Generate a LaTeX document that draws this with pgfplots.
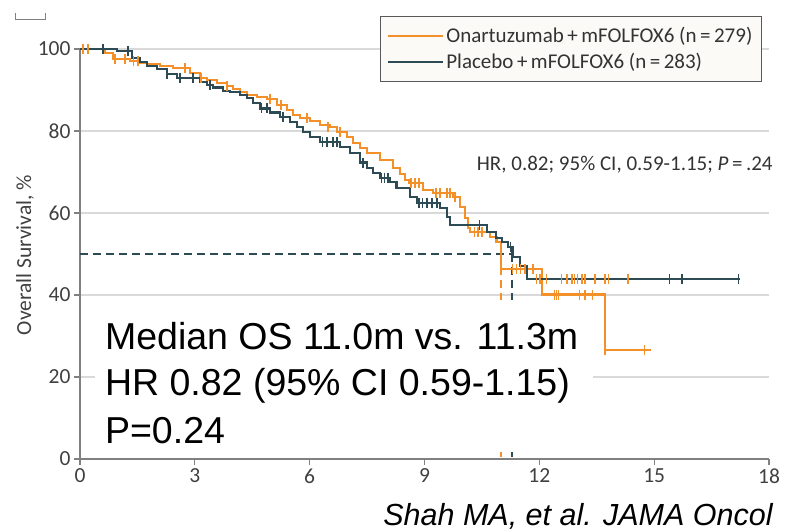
\documentclass[border=0pt]{standalone}
\usepackage{fontspec}
\setmainfont{Carlito}
\newfontfamily\arialfont{Liberation Sans}
\usepackage{pgfplots}
\pgfplotsset{compat=1.18}
\definecolor{onaorange}{RGB}{243,144,42}
\definecolor{placdark}{RGB}{45,75,85}
\definecolor{gridgray}{RGB}{217,217,217}
\definecolor{axgray}{RGB}{128,128,128}
\definecolor{legfill}{RGB}{251,250,246}

\begin{document}
\begin{tikzpicture}
\path[use as bounding box] (0,0) rectangle (785pt,531pt);
\draw[axgray, line width=1pt] (15pt,518pt) -- (15pt,511pt) -- (45pt,511pt) -- (45pt,518pt);
\begin{axis}[
  at={(80pt,72pt)}, anchor=south west, scale only axis,
  width=689pt, height=410pt,
  xmin=0, xmax=18, ymin=0, ymax=100, clip=false,
  axis lines=left, axis line style={-, axgray, line width=1.2pt},
  xtick={0,3,...,18}, ytick={0,20,...,100},
  tick align=outside, major tick length=6pt,
  tick style={axgray, line width=1.2pt},
  ymajorgrids, grid style={gridgray, line width=1.2pt},
  tick label style={font=\fontsize{21.5}{25}\selectfont, text=black!75},
  /pgf/number format/assume math mode=true,
  ylabel={Overall Survival, \%},
  ylabel style={font=\fontsize{21.5}{25}\selectfont, text=black!75,
    at={(axis description cs:-0.0798,0.4976)}, anchor=center},
  legend style={at={(0.4354,1.0805)}, anchor=north west, draw=black!65,
    fill=legfill, line width=0.8pt, font=\fontsize{21}{25}\selectfont,
    text=black!80, inner xsep=7pt, inner ysep=9pt, row sep=5pt},
  legend cell align=left,
  legend image code/.code={\draw[#1, line width=2pt] (0pt,0pt) -- (55pt,0pt);},
]

% median reference lines
\addplot[placdark, line width=1.8pt, dash pattern=on 8pt off 5pt, forget plot]
  coordinates {(0,50) (11.28,50)};
\addplot[onaorange, line width=1.8pt, dash pattern=on 8pt off 5pt, forget plot]
  coordinates {(11.0,50) (11.0,0)};
\addplot[placdark, line width=1.8pt, dash pattern=on 8pt off 5pt, forget plot]
  coordinates {(11.28,50) (11.28,0)};

% Onartuzumab + mFOLFOX6
\addplot[onaorange, line width=2.2pt, const plot] coordinates {
  (0,100) (0.65,99) (0.86,97.5) (1.31,97) (1.57,96.6) (1.75,96.3) (2.09,95.9)
  (2.43,95.4) (2.87,94.2) (3.13,93) (3.32,92.4) (3.58,91.7) (3.84,91) (3.99,90.2)
  (4.18,89.5) (4.36,88.8) (4.62,88.3) (4.88,87.8) (5.14,86.3) (5.40,85.1)
  (5.56,83.9) (5.74,83.2) (6.01,82.4) (6.27,81.5) (6.53,81.0) (6.71,79.8)
  (6.97,78.5) (7.13,77.0) (7.31,75.8) (7.49,74.6) (7.83,72.9) (8.17,71.0)
  (8.36,69.5) (8.49,68.0) (8.60,67.3) (8.96,65.6) (9.22,64.9) (9.74,63.9)
  (9.92,61.5) (10.05,58.8) (10.13,56.3) (10.18,55.4) (10.72,54.1) (10.88,52.9)
  (11.0,46.3) (12.06,40.1) (13.71,26.6) (14.93,26.6)};
\addlegendentry{Onartuzumab\,+\,mFOLFOX6 (n\,=\,279)}

% Placebo + mFOLFOX6
\addplot[placdark, line width=2.2pt, const plot] coordinates {
  (0,100) (0.97,99.5) (1.35,97.8) (1.57,96.8) (1.75,95.9) (2.01,95.1) (2.27,93.9)
  (2.53,93.0) (3.13,92.0) (3.32,91.2) (3.48,90.6) (3.74,89.8) (3.92,89.5)
  (4.18,88.8) (4.36,88.0) (4.52,86.8) (4.70,85.5) (4.96,84.5) (5.22,83.4)
  (5.48,82.2) (5.66,81.0) (5.83,79.7) (6.01,78.5) (6.27,77.3) (6.79,76.1)
  (7.05,74.7) (7.31,72.3) (7.49,71.0) (7.66,69.8) (7.83,68.6) (8.09,67.6)
  (8.27,66.1) (8.62,63.9) (8.80,62.4) (9.40,61.2) (9.58,59.0) (9.66,57.0)
  (10.63,55.4) (10.86,53.9) (11.02,52.9) (11.18,51.7) (11.30,49.3) (11.50,47.0)
  (11.67,43.9) (17.23,43.9)};
\addlegendentry{Placebo\,+\,mFOLFOX6 (n\,=\,283)}

% censored observations
\addplot[only marks, mark=|, mark size=5pt, onaorange, line width=1.6pt, forget plot]
  coordinates {
  (0.08,100) (0.21,100) (0.91,97.5) (1.17,97.5) (1.40,97) (1.51,97) (2.74,95.4)
  (3.16,93) (3.84,91) (4.96,87.8) (5.25,86.3) (5.93,83.2) (6.48,81) (6.79,79.8)
  (8.65,67.3) (8.75,67.3) (8.85,67.3) (9.30,64.9) (9.40,64.9) (9.58,64.9)
  (9.66,64.9) (9.80,63.9) (10.31,55.4) (10.39,55.4) (10.50,55.4)
  (11.30,46.3) (11.40,46.3) (11.51,46.3) (11.62,46.3) (11.83,46.3)
  (11.93,43.9) (12.01,43.9) (12.19,43.9) (12.58,43.9) (12.72,43.9) (12.85,43.9)
  (12.92,43.9) (13.00,43.9) (13.11,43.9) (13.19,43.9) (13.45,43.9) (13.71,43.9)
  (13.81,43.9) (14.31,43.9)
  (12.40,40.1) (12.45,40.1) (12.50,40.1) (13.05,40.1) (13.19,40.1) (13.39,40.1)
  (13.71,26.6) (14.75,26.6)};
\addplot[only marks, mark=|, mark size=5pt, placdark, line width=1.6pt, forget plot]
  coordinates {
  (0.60,100) (1.25,99.5) (2.27,93.9) (2.61,93) (2.95,93) (3.39,91.2) (4.74,85.5)
  (4.88,85.5) (5.30,83.4) (6.34,77.3) (6.45,77.3) (6.61,77.3) (6.71,77.3)
  (7.40,72.3) (7.88,68.6) (7.96,68.6) (8.05,68.6) (8.85,62.4) (8.95,62.4)
  (9.06,62.4) (9.19,62.4) (9.32,62.4) (10.44,57) (11.25,51.7)
  (15.40,43.9) (15.72,43.9) (17.20,43.9)};

\node[anchor=east, font=\fontsize{21}{25}\selectfont, text=black!80, inner sep=0pt]
  at (axis cs:18.1,71.7) {HR, 0.82; 95\% CI, 0.59-1.15; \textit{P}\,=\,.24};

% overlay summary box
\fill[white] (axis cs:0.39,1.7) rectangle (axis cs:13.4,38.8);
\node[anchor=base west, inner sep=0pt, font=\arialfont\fontsize{37.5}{45}\selectfont]
  at (axis cs:0.65,26.8) {Median OS 11.0m vs. 11.3m};
\node[anchor=base west, inner sep=0pt, font=\arialfont\fontsize{37.5}{45}\selectfont]
  at (axis cs:0.65,15.4) {HR 0.82 (95\% CI 0.59-1.15)};
\node[anchor=base west, inner sep=0pt, font=\arialfont\fontsize{37.5}{45}\selectfont]
  at (axis cs:0.65,3.9) {P=0.24};
\node[anchor=base west, inner sep=0pt, font=\arialfont\itshape\fontsize{30.5}{36}\selectfont]
  at (axis cs:7.92,-16.2) {Shah MA, et al. JAMA Oncol};
\end{axis}
\end{tikzpicture}
\end{document}
